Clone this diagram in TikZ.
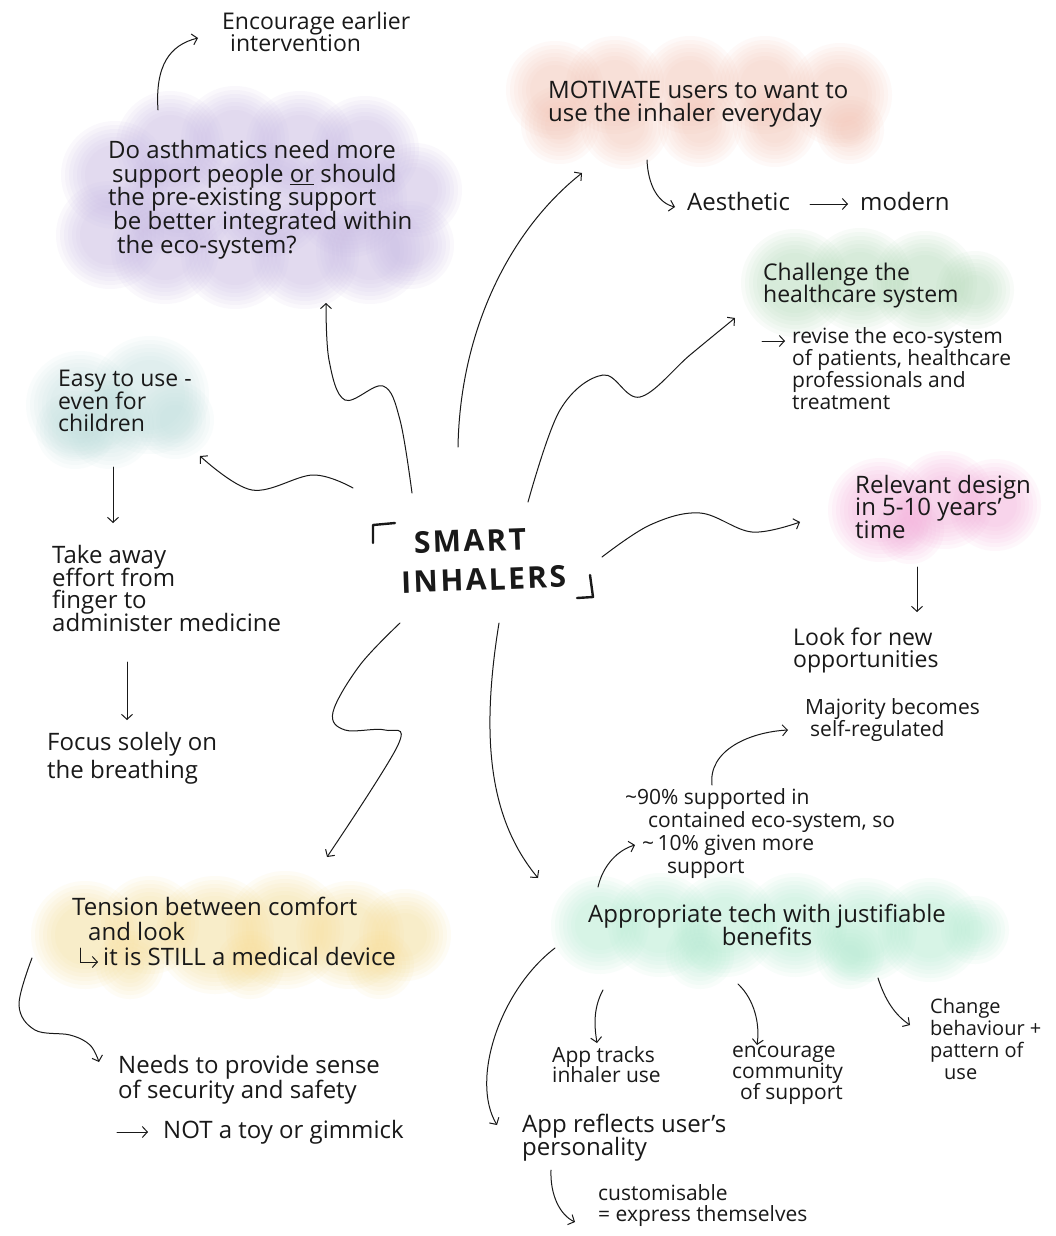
\documentclass[tikz,border=0pt]{standalone}
\usepackage{fontspec}
\setmainfont{Open Sans}
\newfontfamily\hubfont[LetterSpace=8]{Open Sans}
\usetikzlibrary{arrows.meta}
\definecolor{cPurple}{RGB}{200,185,228}
\definecolor{cSalmon}{RGB}{245,195,180}
\definecolor{cGreen}{RGB}{178,218,184}
\definecolor{cTeal}{RGB}{195,226,224}
\definecolor{cPink}{RGB}{245,172,218}
\definecolor{cYellow}{RGB}{248,222,150}
\definecolor{cMint}{RGB}{178,236,210}
\newcommand\fs[2]{\fontsize{#1}{#2}\selectfont\lineskiplimit=-100pt\relax}
\newcommand\wblob[2]{\foreach \a/\b/\r in {#2}{\foreach \k in {0,4,8,12,16,20,24}{\pgfmathsetmacro\rr{\r-\k}\fill[blob=#1] (\a,\b) circle (\rr pt);}}}
\tikzset{
  lbl/.style={anchor=north west, inner sep=0pt, align=left, text=black!90,
    font=\fs{24}{23}, execute at begin node={\rule{0pt}{20pt}}},
  conn/.style={draw=black!90, line width=1pt, line cap=round,
    -{Straight Barb[length=5pt,width=11pt,line width=1pt]}},
  blob/.style={fill=#1, fill opacity=0.09},
  brk/.style={draw=black!90, line width=2.4pt, line cap=round, line join=round},
}
\begin{document}
\begin{tikzpicture}[x=1pt,y=-1pt]
\useasboundingbox (0,0) rectangle (1056,1236);
\fill[white] (0,0) rectangle (1056,1236);
% ---- watercolour blobs
\wblob{cPurple}{115/175/54,110/235/54,170/145/54,165/250/54,235/140/54,235/255/54,300/145/54,305/255/54,365/150/54,370/250/54,415/190/47,410/245/44,180/200/57,270/200/57,350/200/57}
\wblob{cSalmon}{555/90/49,560/125/39,615/85/49,625/125/44,690/85/49,700/125/42,765/85/49,775/125/42,840/95/52,850/130/34}
\wblob{cGreen}{795/283/54,860/280/52,925/283/52,975/290/39}
\wblob{cTeal}{80/405/54,150/395/59,110/425/44,75/430/39,175/420/39}
\wblob{cPink}{880/510/52,945/500/49,995/505/46,910/530/34}
\wblob{cYellow}{85/935/54,150/925/49,215/935/59,285/930/59,350/935/54,405/935/46,130/965/34,250/965/34,380/965/34}
\wblob{cMint}{600/925/49,660/925/52,725/925/52,795/925/52,865/930/52,930/930/52,975/930/34,700/955/34,850/955/34}
% ---- centre
\node[inner sep=0pt, align=left, rotate=2, text=black!90,
  font=\hubfont\bfseries\fs{30}{39}] (hub) at (483,560)
  {\hspace*{14pt}SMART\\INHALERS};
\draw[brk] ([shift={(-110,-17)}]hub.center) -- ([shift={(-110,-35)}]hub.center) -- ([shift={(-88,-37)}]hub.center);
\draw[brk] ([shift={(94,38)}]hub.center) -- ([shift={(110,37)}]hub.center) -- ([shift={(107,15)}]hub.center);
% ---- texts
\node[lbl, font=\fs{23}{22}] (enc) at (222,12) {Encourage earlier\\\hspace*{8pt}intervention};
\node[lbl, font=\fs{24}{23.7}] (q) at (108,140) {Do asthmatics need more\\\hspace*{4pt}support people \underline{or} should\\the pre-existing support\\\hspace*{5pt}be better integrated within\\\hspace*{9pt}the eco-system?};
\node[lbl, font=\fs{24}{23}] (motiv) at (548,81) {MOTIVATE users to want to\\use the inhaler everyday};
\node[lbl] (aesth) at (687,190) {Aesthetic};
\node[lbl] (modern) at (860,190) {modern};
\node[lbl, font=\fs{23}{22}] (chal) at (763,263) {Challenge the\\healthcare system};
\node[lbl, font=\fs{21}{22}] (revise) at (792,327) {revise the eco-system\\of patients, healthcare\\professionals and\\treatment};
\node[lbl, font=\fs{23}{22.5}] (easy) at (58,370) {Easy to use -\\even for\\children};
\node[lbl, font=\fs{24}{22.7}] (take) at (52,545) {Take away\\effort from\\finger to\\administer medicine};
\node[lbl, font=\fs{24}{28}] (focus) at (47,732) {Focus solely on\\the breathing};
\node[lbl, font=\fs{24}{22.5}] (relevant) at (855,475) {Relevant design\\in 5-10 years'\\time};
\node[lbl, font=\fs{23}{22}] (look) at (793,628) {Look for new\\opportunities};
\node[lbl, font=\fs{21}{22}] (major) at (805,698) {Majority becomes\\\hspace*{5pt}self-regulated};
\node[lbl, font=\fs{21}{23}] (ninety) at (625,788) {\textasciitilde90\% supported in\\\hspace*{23pt}contained eco-system, so\\\hspace*{17pt}\textasciitilde\,10\% given more\\\hspace*{42pt}support};
\node[lbl, font=\fs{24}{23}, align=center, anchor=north] (approp) at (767,904) {Appropriate tech with justifiable\\benefits};
\node[lbl, font=\fs{21}{20.5}] (tracks) at (552,1046) {App tracks\\inhaler use};
\node[lbl, font=\fs{21}{21}] (comm) at (732,1046) {encourage\\community\\\hspace*{8pt}of support};
\node[lbl, font=\fs{20}{22}] (change) at (930,998) {Change\\behaviour +\\pattern of\\\hspace*{14pt}use};
\node[lbl, font=\fs{24}{23}] (reflects) at (522,1114) {App reflects user's\\personality};
\node[lbl, font=\fs{21}{21}] (custom) at (598,1184) {customisable\\= express themselves};
\node[lbl, font=\fs{24}{25}] (tension) at (72,897) {Tension between comfort\\\hspace*{16pt}and look\\\hspace*{31pt}it is STILL a medical device};
\node[lbl, font=\fs{24}{25}] (needs) at (118,1055) {Needs to provide sense\\of security and safety};
\node[lbl] (nottoy) at (163,1118) {NOT a toy or gimmick};
% ---- connectors
\draw[conn] ([shift={(50,-30)}]q.north west) .. controls (155,65) and (170,45) .. ([shift={(-24,26)}]enc.north west);
\draw[conn] plot[smooth, tension=0.6] coordinates {([shift={(-71,-67)}]hub.center) (400,420) (383,386) (345,400) (329,360) ([shift={(218,163)}]q.north west)};
\draw[conn] plot[smooth, tension=0.6] coordinates {([shift={(-130,-72)}]hub.center) (313,475) (252,490) ([shift={(142,86)}]easy.north west)};
\draw[conn] ([shift={(-25,-113)}]hub.center) .. controls (460,330) and (510,230) .. ([shift={(34,92)}]motiv.north west);
\draw[conn] ([shift={(99,79)}]motiv.north west) .. controls (648,185) and (658,203) .. ([shift={(-12,17)}]aesth.north west);
\draw[conn] ([shift={(123,14)}]aesth.north west) -- ([shift={(-12,14)}]modern.north west);
\draw[conn] plot[smooth, tension=0.6] coordinates {([shift={(45,-58)}]hub.center) (560,410) (603,375) (640,397) (690,355) ([shift={(-28,55)}]chal.north west)};
\draw[conn] ([shift={(-30,14)}]revise.north west) -- ([shift={(-7,14)}]revise.north west);
\draw[conn] plot[smooth, tension=0.6] coordinates {([shift={(119,-3)}]hub.center) (650,525) (700,513) (752,532) ([shift={(-55,47)}]relevant.north west)};
\draw[conn] ([shift={(62,92)}]relevant.north west) -- ([shift={(124,-16)}]look.north west);
\draw[conn] ([shift={(87,-3)}]ninety.north west) .. controls (708,750) and (750,732) .. ([shift={(-17,32)}]major.north west);
\draw[conn] ([shift={(-169,-17)}]approp.north) .. controls (603,865) and (618,850) .. ([shift={(10,57)}]ninety.north west);
\draw[conn] ([shift={(55,97)}]easy.north west) -- ([shift={(61,-22)}]take.north west);
\draw[conn] ([shift={(75,117)}]take.north west) -- ([shift={(80,-12)}]focus.north west);
\draw[conn] plot[smooth, tension=0.6] coordinates {([shift={(-83,63)}]hub.center) (360,665) (333,712) (345,730) (385,730) (398,745) ([shift={(255,-40)}]tension.north west)};
\draw[conn] ([shift={(16,63)}]hub.center) .. controls (480,740) and (490,820) .. ([shift={(-229,-26)}]approp.north);
\draw[conn] ([shift={(-212,44)}]approp.north) .. controls (500,990) and (470,1080) .. ([shift={(-25,11)}]reflects.north west);
\draw[conn] ([shift={(-164,86)}]approp.north) .. controls (592,1010) and (595,1030) .. ([shift={(45,-3)}]tracks.north west);
\draw[conn] ([shift={(-29,80)}]approp.north) .. controls (755,1000) and (760,1025) .. ([shift={(25,-1)}]comm.north west);
\draw[conn] ([shift={(111,74)}]approp.north) .. controls (885,1000) and (895,1015) .. ([shift={(-20,27)}]change.north west);
\draw[conn] ([shift={(29,56)}]reflects.north west) .. controls (550,1195) and (560,1215) .. ([shift={(-23,38)}]custom.north west);
\draw[conn] plot[smooth, tension=0.6] coordinates {([shift={(-40,61)}]tension.north west) (19,1005) (35,1030) (70,1035) (90,1045) ([shift={(-19,7)}]needs.north west)};
\draw[conn] ([shift={(-46,14)}]nottoy.north west) -- ([shift={(-15,14)}]nottoy.north west);
\draw[conn] ([shift={(8,51)}]tension.north west) -- ([shift={(8,65)}]tension.north west) -- ([shift={(26,65)}]tension.north west);
\end{tikzpicture}
\end{document}
